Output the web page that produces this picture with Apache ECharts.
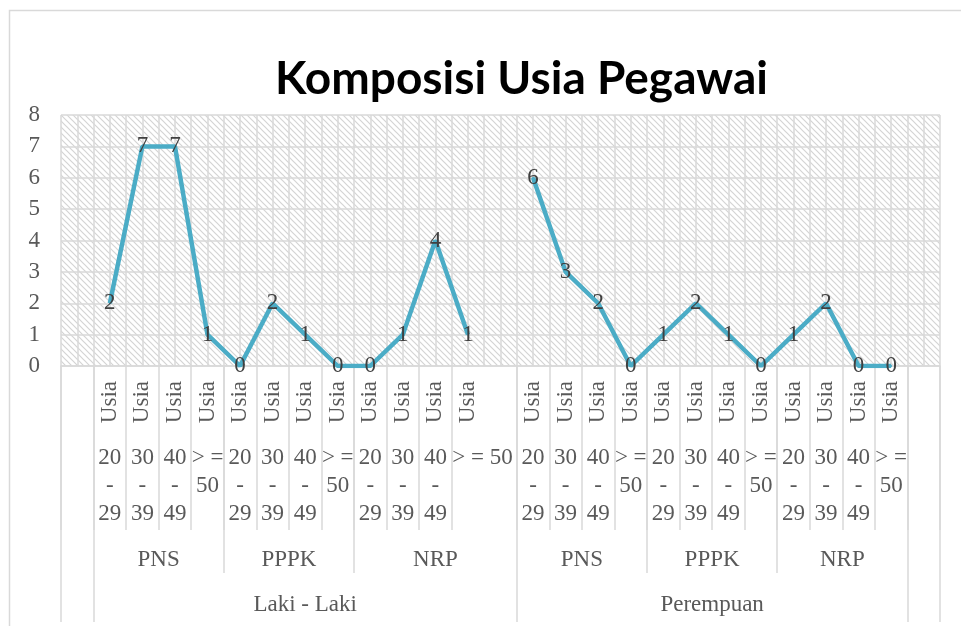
<!DOCTYPE html>
<html>
<head>
<meta charset="utf-8">
<script src="https://cdn.jsdelivr.net/npm/echarts@6/dist/echarts.min.js"></script>
<style>
html,body{margin:0;padding:0;background:#fff;}
#chart{width:961px;height:626px;}
</style>
</head>
<body>
<div id="chart"></div>
<script>
// ---- data ----
var genders = ['Laki - Laki', 'Perempuan'];
var types = ['PNS', 'PPPK', 'NRP'];
var ages = ['20 - 29', '30 - 39', '40 - 49', '> = 50'];
var yTicks = [0, 1, 2, 3, 4, 5, 6, 7, 8];

var lakiPNS = [2, 7, 7, 1];
var lakiPPPK = [0, 2, 1, 0];
var lakiNRP = [0, 1, 4, 1];
var perempuanPNS = [6, 3, 2, 0];
var perempuanPPPK = [1, 2, 1, 0];
var perempuanNRP = [1, 2, 0, 0];

var title = 'Komposisi Usia Pegawai';

// ---- build category axis (blank spacer columns as in the source sheet) ----
var valuesByGender = [[lakiPNS, lakiPPPK, lakiNRP], [perempuanPNS, perempuanPPPK, perempuanNRP]];
var categories = ['blank-start'];
var values = [null];
var catInfo = [null];
var typeBounds = [0];
var genderBounds = [0];
var typeCenters = {};
var genderCenters = {};
genders.forEach(function (g, gi) {
  var gStart = categories.length;
  genderBounds.push(gStart);
  types.forEach(function (t, ti) {
    var tStart = categories.length;
    typeBounds.push(tStart);
    ages.forEach(function (a, ai) {
      categories.push(g + '|' + t + '|' + a);
      values.push(valuesByGender[gi][ti][ai]);
      catInfo.push({ g: g, t: t, a: a });
    });
    if (gi === 0 && ti === types.length - 1) {
      categories.push('blank-mid');
      values.push(null);
      catInfo.push(null);
    }
    typeCenters[((tStart + categories.length) / 2)] = t;
  });
  genderCenters[((gStart + categories.length) / 2)] = g;
});
categories.push('blank-end');
values.push(null);
catInfo.push(null);
var N = categories.length;
typeBounds.push(N - 1);
genderBounds.push(N - 1);
var midBlank = categories.indexOf('blank-mid');

var SERIF = '"Liberation Serif", "DejaVu Serif", serif';
var FS = 23;
var LBL = '#595959';
var GRIDC = '#d9d9d9';

// hatch pattern for plot background
var pc = document.createElement('canvas');
pc.width = 6; pc.height = 6;
var px = pc.getContext('2d');
px.fillStyle = '#ffffff';
px.fillRect(0, 0, 6, 6);
px.strokeStyle = '#d4d4d4';
px.lineWidth = 1.2;
px.beginPath();
px.moveTo(-1, -1); px.lineTo(7, 7);
px.moveTo(-1, 5); px.lineTo(1, 7);
px.moveTo(5, -1); px.lineTo(7, 1);
px.stroke();

var chart = echarts.init(document.getElementById('chart'));

function catAxisBase(extra) {
  var base = {
    type: 'category',
    data: categories,
    boundaryGap: true,
    gridIndex: 0,
    position: 'bottom',
    axisLine: { show: false },
    axisTick: { show: false },
    axisLabel: { show: false },
    splitLine: { show: false }
  };
  for (var k in extra) base[k] = extra[k];
  return base;
}

var option = {
  animation: false,
  backgroundColor: '#ffffff',
  title: {
    text: title,
    left: 270,
    top: 51,
    textStyle: { fontFamily: 'Lato, "Noto Sans", sans-serif', fontWeight: 'bold', fontSize: 46, color: '#000000' }
  },
  graphic: [{
    type: 'rect',
    shape: { x: 9.5, y: 10.5, width: 980, height: 660 },
    style: { fill: 'none', stroke: GRIDC, lineWidth: 1.5 },
    silent: true,
    z: -1
  }],
  grid: {
    left: 61, right: 21, top: 115, bottom: 260,
    show: true,
    borderWidth: 0,
    backgroundColor: { image: pc, repeat: 'repeat' },
    containLabel: false,
    outerBoundsMode: 'none'
  },
  xAxis: [
    // 0: main axis - "Usia" labels and age-level dividers
    catAxisBase({
      axisLine: { show: true, lineStyle: { color: GRIDC, width: 1.5 } },
      axisTick: {
        show: true, length: 164,
        interval: function (i) { return i !== midBlank; },
        lineStyle: { color: GRIDC, width: 1.5 }
      },
      axisLabel: {
        show: true, interval: 0, rotate: 90, margin: 15,
        fontFamily: SERIF, fontSize: FS, color: LBL,
        formatter: function (v, i) { return catInfo[i] ? 'Usia' : ''; }
      },
      z: 3
    }),
    // 1: age range labels
    catAxisBase({
      axisLabel: {
        show: true, interval: 0, margin: 78, hideOverlap: false,
        fontFamily: SERIF, fontSize: FS, color: LBL, lineHeight: 28,
        formatter: function (v, i) {
          var c = catInfo[i];
          if (!c) return '';
          if (i === midBlank - 1) return '{w|' + c.a + '}';
          return c.a.replace(/ - /, '\n-\n').replace('> = ', '> =\n');
        },
        rich: { w: { fontFamily: SERIF, fontSize: FS, color: LBL, lineHeight: 28, padding: [0, 0, 0, 29] } }
      }
    }),
    // 2: vertical grid lines (half-category) + type labels
    {
      type: 'value', gridIndex: 0, position: 'bottom',
      min: 0, max: N, interval: 0.5,
      axisLine: { show: false }, axisTick: { show: false },
      splitLine: { show: true, lineStyle: { color: GRIDC, width: 1.5 } },
      axisLabel: {
        show: true, margin: 182, hideOverlap: false, showMinLabel: true, showMaxLabel: true,
        fontFamily: SERIF, fontSize: FS, color: LBL,
        formatter: function (v) { return typeCenters[v] || ''; }
      }
    },
    // 3: gender labels
    {
      type: 'value', gridIndex: 0, position: 'bottom',
      min: 0, max: N, interval: 0.5,
      axisLine: { show: false }, axisTick: { show: false },
      splitLine: { show: false },
      axisLabel: {
        show: true, margin: 227, hideOverlap: false,
        fontFamily: SERIF, fontSize: FS, color: LBL,
        formatter: function (v) { return genderCenters[v] || ''; }
      }
    },
    // 4: type-level dividers
    catAxisBase({
      axisTick: {
        show: true, length: 207,
        interval: function (i) { return typeBounds.indexOf(i) >= 0; },
        lineStyle: { color: GRIDC, width: 1.5 }
      }
    }),
    // 5: gender-level dividers
    catAxisBase({
      axisTick: {
        show: true, length: 256,
        interval: function (i) { return genderBounds.indexOf(i) >= 0; },
        lineStyle: { color: GRIDC, width: 1.5 }
      }
    })
  ],
  yAxis: {
    type: 'value',
    min: yTicks[0], max: yTicks[yTicks.length - 1], interval: 1,
    axisLine: { show: false }, axisTick: { show: false },
    splitLine: { show: true, lineStyle: { color: GRIDC, width: 1.5 } },
    axisLabel: { margin: 21, fontFamily: SERIF, fontSize: FS, color: LBL }
  },
  series: [{
    type: 'line',
    xAxisIndex: 0,
    yAxisIndex: 0,
    data: values,
    connectNulls: false,
    symbol: 'circle',
    symbolSize: 2,
    lineStyle: { color: '#4BACC6', width: 4.5 },
    itemStyle: { color: '#4BACC6' },
    label: {
      show: true, position: 'inside',
      fontFamily: SERIF, fontSize: FS, color: '#404040'
    },
    z: 5
  }]
};
chart.setOption(option);
</script>
</body>
</html>
